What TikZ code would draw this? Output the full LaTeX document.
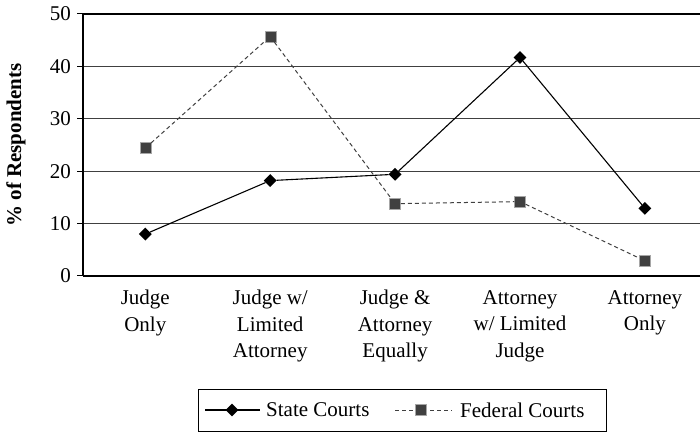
\documentclass[tikz,border=0pt]{standalone}
\usepackage{fontspec}
\setmainfont{Liberation Serif}
\usetikzlibrary{shapes.geometric}

\tikzset{
  statemark/.style={diamond,fill=black,inner sep=0pt,minimum size=13pt},
  fedmark/.style={rectangle,fill=black!75,draw=black!35,line width=.4pt,inner sep=0pt,minimum size=11pt},
  stateline/.style={draw=black,line width=1.1pt},
  fedline/.style={draw=black!75,line width=1pt,dash pattern=on 4pt off 3pt},
  gridline/.style={draw=black!75,line width=.9pt},
  txt/.style={font=\fontsize{21}{26.5}\selectfont,inner sep=0pt},
}

\begin{document}
\begin{tikzpicture}[x=1pt,y=1pt]
      \useasboundingbox (0,0) rectangle (700,433);

      % grid and axes
      \foreach \v in {1,...,4}
        \draw[gridline] (83,{157+52.4*\v}) -- (700,{157+52.4*\v});
      \draw[line width=1.3pt] (83,419) -- (700,419);
      \draw[line width=1.3pt] (83,157) -- (700,157);
      \draw[line width=1.1pt] (83,157) -- (83,419);
      \foreach \v in {0,...,5} {
        \draw[line width=1pt] (77,{157+52.4*\v}) -- (83,{157+52.4*\v});
        \node[txt,anchor=east] (y\v) at (71,{157+52.4*\v}) {\number\numexpr\v*10\relax};
      }
      \node[txt,rotate=90,font=\fontsize{21}{26}\selectfont\bfseries] (ylab) at (16,288) {\% of Respondents};

      % categories
      \begin{scope}[every node/.style={txt,align=center,anchor=north}]
        \node (c1) at (145.3,143) {Judge\\Only};
        \node (c2) at (270.2,143) {Judge w/\\Limited\\Attorney};
        \node (c3) at (395.1,143) {Judge \&\\Attorney\\Equally};
        \node (c4) at (520.0,143) {Attorney\\w/ Limited\\Judge};
        \node (c5) at (644.9,143) {Attorney\\Only};
      \end{scope}

      % federal courts
      \begin{scope}[every node/.style={fedmark}]
        \node (f1) at (145.3,284.9) {};
        \node (f2) at (270.2,396.5) {};
        \node (f3) at (395.1,229.3) {};
        \node (f4) at (520.0,231.4) {};
        \node (f5) at (644.9,172.2) {};
      \end{scope}
      \path[fedline] (f1) -- (f2) -- (f3) -- (f4) -- (f5);

      % state courts
      \begin{scope}[every node/.style={statemark}]
        \node (s1) at (145.3,198.9) {};
        \node (s2) at (270.2,252.4) {};
        \node (s3) at (395.1,258.7) {};
        \node (s4) at (520.0,375.5) {};
        \node (s5) at (644.9,224.6) {};
      \end{scope}
      \path[stateline] (s1) -- (s2) -- (s3) -- (s4) -- (s5);

      % legend
      \node[draw,line width=.9pt,minimum width=408pt,minimum height=42pt,inner sep=0pt] (leg) at (402,23) {};
      \coordinate (la) at (205,23);
      \coordinate (lb) at (260,23);
      \coordinate (lc) at (395,23);
      \coordinate (ld) at (452,23);
      \path[stateline] (la) -- (lb);
      \path[fedline] (lc) -- (ld);
      \node[statemark] (ls) at (232,23) {};
      \node[fedmark] (lf) at (421,23) {};
      \node[txt,anchor=west] (lstate) at (266,23) {State Courts};
      \node[txt,anchor=west] (lfed) at (460,23) {Federal Courts};

    \end{tikzpicture}
\end{document}
